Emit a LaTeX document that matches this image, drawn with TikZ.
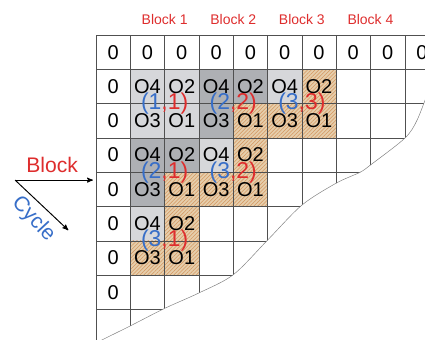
\documentclass[tikz,border=0pt]{standalone}
\usepackage{fontspec}
\setmainfont{Liberation Sans}
\usetikzlibrary{arrows}
\usetikzlibrary{patterns.meta}
\definecolor{blockred}{RGB}{222, 45, 45}
\definecolor{cycleblue}{RGB}{55, 110, 200}
\definecolor{lightcell}{RGB}{214, 215, 218}
\definecolor{darkcell}{RGB}{174, 176, 180}
\definecolor{sand}{RGB}{230, 206, 172}
\definecolor{hatch}{RGB}{212, 150, 95}
\definecolor{gridgrey}{RGB}{80, 80, 80}

\begin{document}
\begin{tikzpicture}[>=stealth',
    entry/.style={font=\fontsize{16.6}{18}\selectfont, inner sep=0pt},
    pair/.style={font=\fontsize{19}{21}\selectfont, inner sep=0pt},
    blocklabel/.style={font=\fontsize{11.6}{13}\selectfont, text=blockred, inner sep=0pt},
    hatched/.style={fill=sand, postaction={pattern={Lines[angle=45, distance=2.2pt, line width=0.5pt]}, pattern color=hatch}}]
                \clip (-2.80, 1.02) rectangle (9.59, -8.89);

                \begin{scope}
                    \fill[lightcell] (1,-1) rectangle (3,-3);
                    \fill[darkcell] (3,-1) rectangle (5,-2);
                    \fill[darkcell] (3,-2) rectangle (4,-3);
                    \fill[lightcell] (5,-1) rectangle (6,-2);
                    \fill[darkcell] (1,-3) rectangle (3,-4);
                    \fill[darkcell] (1,-4) rectangle (2,-5);
                    \fill[lightcell] (3,-3) rectangle (4,-4);
                    \fill[lightcell] (1,-5) rectangle (2,-6);

                    \path[hatched] (6,-1) rectangle (7,-2);
                    \path[hatched] (4,-2) rectangle (7,-3);
                    \path[hatched] (4,-3) rectangle (5,-4);
                    \path[hatched] (2,-4) rectangle (5,-5);
                    \path[hatched] (2,-5) rectangle (3,-6);
                    \path[hatched] (1,-6) rectangle (3,-7);
                \end{scope}

                \begin{scope}
                    \clip (-0.05, 1) -- (-0.05, -9) -- plot[smooth] coordinates {(0.05,-8.95) (1,-8.48) (2,-7.97) (3,-7.52) (4,-6.99) (5,-5.98) (6,-4.96) (7,-4.32) (7.7,-4.0) (8,-3.79) (9,-3.01) (9.36,-2.48) (9.7,-1.6)} -- (10, 1) -- cycle;
                    \draw[gridgrey, thin] (0,0) grid (10,-9);
                \end{scope}
                \draw[gray, thin] plot[smooth] coordinates {(0.05,-8.95) (1,-8.48) (2,-7.97) (3,-7.52) (4,-6.99) (5,-5.98) (6,-4.96) (7,-4.32) (7.7,-4.0) (8,-3.79) (9,-3.01) (9.36,-2.48) (9.7,-1.6)};

                \node[entry] (top0) at (0.5,-0.5) {0};
                \node[entry] (top1) at (1.5,-0.5) {0};
                \node[entry] (top2) at (2.5,-0.5) {0};
                \node[entry] (top3) at (3.5,-0.5) {0};
                \node[entry] (top4) at (4.5,-0.5) {0};
                \node[entry] (top5) at (5.5,-0.5) {0};
                \node[entry] (top6) at (6.5,-0.5) {0};
                \node[entry] (top7) at (7.5,-0.5) {0};
                \node[entry] (top8) at (8.5,-0.5) {0};
                \node[entry] (top9) at (9.5,-0.5) {0};
                \node[entry] (left1) at (0.5,-1.5) {0};
                \node[entry] (left2) at (0.5,-2.5) {0};
                \node[entry] (left3) at (0.5,-3.5) {0};
                \node[entry] (left4) at (0.5,-4.5) {0};
                \node[entry] (left5) at (0.5,-5.5) {0};
                \node[entry] (left6) at (0.5,-6.5) {0};
                \node[entry] (left7) at (0.5,-7.5) {0};

                \node[entry] (o11) at (1.5,-1.5) {O4};
                \node[entry] (o12) at (2.5,-1.5) {O2};
                \node[entry] (o13) at (3.5,-1.5) {O4};
                \node[entry] (o14) at (4.5,-1.5) {O2};
                \node[entry] (o15) at (5.5,-1.5) {O4};
                \node[entry] (o16) at (6.5,-1.5) {O2};
                \node[entry] (o21) at (1.5,-2.5) {O3};
                \node[entry] (o22) at (2.5,-2.5) {O1};
                \node[entry] (o23) at (3.5,-2.5) {O3};
                \node[entry] (o24) at (4.5,-2.5) {O1};
                \node[entry] (o25) at (5.5,-2.5) {O3};
                \node[entry] (o26) at (6.5,-2.5) {O1};
                \node[entry] (o31) at (1.5,-3.5) {O4};
                \node[entry] (o32) at (2.5,-3.5) {O2};
                \node[entry] (o33) at (3.5,-3.5) {O4};
                \node[entry] (o34) at (4.5,-3.5) {O2};
                \node[entry] (o41) at (1.5,-4.5) {O3};
                \node[entry] (o42) at (2.5,-4.5) {O1};
                \node[entry] (o43) at (3.5,-4.5) {O3};
                \node[entry] (o44) at (4.5,-4.5) {O1};
                \node[entry] (o51) at (1.5,-5.5) {O4};
                \node[entry] (o52) at (2.5,-5.5) {O2};
                \node[entry] (o61) at (1.5,-6.5) {O3};
                \node[entry] (o62) at (2.5,-6.5) {O1};

                \node[pair] (p11) at (2,-2) {{\color{cycleblue}(1}{\color{blockred},1)}};
                \node[pair] (p22) at (4,-2) {{\color{cycleblue}(2}{\color{blockred},2)}};
                \node[pair] (p33) at (6,-2) {{\color{cycleblue}(3}{\color{blockred},3)}};
                \node[pair] (p21) at (2,-4) {{\color{cycleblue}(2}{\color{blockred},1)}};
                \node[pair] (p32) at (4,-4) {{\color{cycleblue}(3}{\color{blockred},2)}};
                \node[pair] (p31) at (2,-6) {{\color{cycleblue}(3}{\color{blockred},1)}};

                \node[blocklabel] (block1) at (2,0.44) {Block 1};
                \node[blocklabel] (block2) at (4,0.44) {Block 2};
                \node[blocklabel] (block3) at (6,0.44) {Block 3};
                \node[blocklabel] (block4) at (8,0.44) {Block 4};

                \coordinate (origin) at (-2.36,-4.23);
                \coordinate (blockend) at (-0.09,-4.23);
                \coordinate (cycleend) at (-0.81,-5.69);
                \draw[thick, ->] (origin) -- (blockend);
                \draw[thick, ->] (origin) -- (cycleend);
                \node[font=\fontsize{17.5}{19}\selectfont, text=blockred, inner sep=0pt] (blocktext) at (-1.28,-3.79) {Block};
                \node[font=\fontsize{17.5}{19}\selectfont, text=cycleblue, inner sep=0pt, rotate=-47] (cycletext) at (-1.83,-5.37) {Cycle};
            \end{tikzpicture}
\end{document}
